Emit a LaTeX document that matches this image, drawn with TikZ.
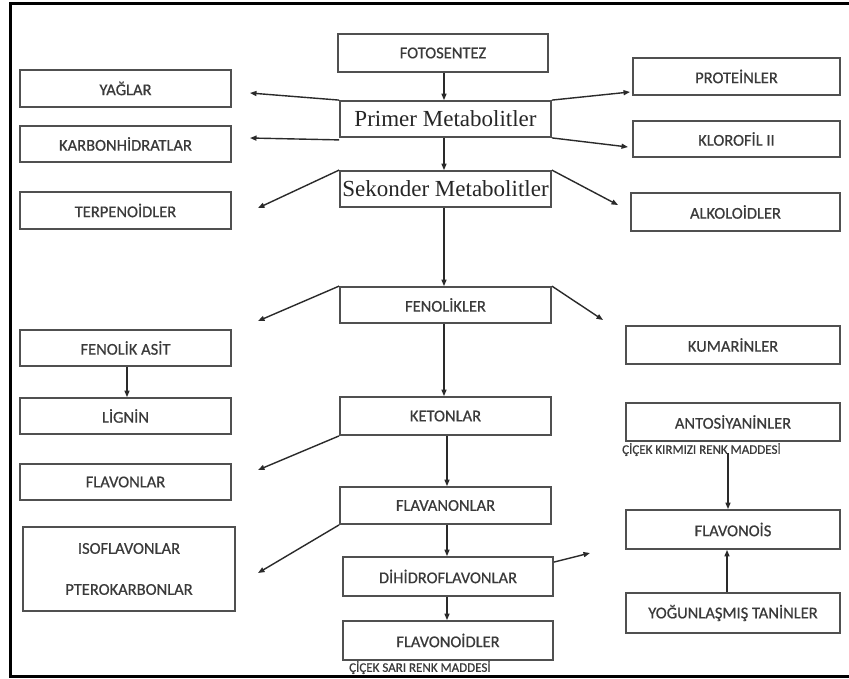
\documentclass[tikz,border=0pt]{standalone}
\usepackage{fontspec}
\setmainfont{Carlito}
\newfontfamily\boxfont{Carlito}[FakeBold=0.6]
\newfontfamily\tmsfont{Liberation Serif}
\usetikzlibrary{arrows.meta}
\definecolor{txtc}{HTML}{3A3A3A}
\definecolor{boxc}{HTML}{505050}
\definecolor{arrc}{HTML}{2A2A2A}
\tikzset{
  box/.style={draw=boxc, line width=1.8pt, fill=white, inner sep=0pt, text=txtc,
    font=\boxfont\fontsize{16.5}{19}\selectfont, align=center},
  serifbox/.style={box, font=\tmsfont\fontsize{23}{26}\selectfont, text=black!85},
  arr/.style={draw=arrc, line width=1.4pt, -{Triangle[length=6.5pt,width=5pt]}},
  note/.style={inner sep=0pt, text=txtc, font=\boxfont\fontsize{13}{15}\selectfont}
}
\begin{document}
\begin{tikzpicture}[x=1pt,y=-1pt]
\useasboundingbox (0,0) rectangle (849,678);
\fill[white] (0,0) rectangle (849,678);
% frame
\draw[black, line width=3pt] (849,3.5) -- (10,3.5) -- (10,676) -- (849,676);

% boxes
\node[box, minimum width=210pt, minimum height=38pt] (foto) at (443,53) {FOTOSENTEZ};
\node[box, minimum width=211pt, minimum height=37pt] (yag) at (125.5,88.5) {YAĞLAR};
\node[box, minimum width=207pt, minimum height=37pt] (prot) at (736.5,76.5) {PROTEİNLER};
\node[serifbox, minimum width=211pt, minimum height=36pt] (prim) at (445.5,119) {Primer Metabolitler};
\node[box, minimum width=211pt, minimum height=36pt] (karb) at (125.5,144) {KARBONHİDRATLAR};
\node[box, minimum width=207pt, minimum height=36pt] (klor) at (736.5,139) {KLOROFİL II};
\node[serifbox, minimum width=211pt, minimum height=36pt] (sek) at (445.5,189) {Sekonder Metabolitler};
\node[box, minimum width=211pt, minimum height=37pt] (terp) at (125.5,210.5) {TERPENOİDLER};
\node[box, minimum width=209pt, minimum height=38pt] (alk) at (735.5,212) {ALKOLOİDLER};
\node[box, minimum width=211pt, minimum height=36pt] (fen) at (445.5,305) {FENOLİKLER};
\node[box, minimum width=211pt, minimum height=36pt] (fasit) at (125.5,348) {FENOLİK ASİT};
\node[box, minimum width=214pt, minimum height=38pt] (kum) at (733,345) {KUMARİNLER};
\node[box, minimum width=211pt, minimum height=36pt] (lig) at (125.5,416) {LİGNİN};
\node[box, minimum width=211pt, minimum height=38pt] (ket) at (445.5,416) {KETONLAR};
\node[box, minimum width=214pt, minimum height=38pt] (anto) at (733,422) {ANTOSİYANİNLER};
\node[note, anchor=north west] (antolbl) at (622,443) {ÇİÇEK KIRMIZI RENK MADDESİ};
\node[box, minimum width=211pt, minimum height=36pt] (flavon) at (125.5,482) {FLAVONLAR};
\node[box, minimum width=211pt, minimum height=37pt] (flavan) at (445.5,505.5) {FLAVANONLAR};
\node[box, minimum width=212pt, minimum height=84pt] (iso) at (129,569) {ISOFLAVONLAR\\[22pt]PTEROKARBONLAR};
\node[box, minimum width=214pt, minimum height=39pt] (flavonois) at (733,529.5) {FLAVONOİS};
\node[box, minimum width=210pt, minimum height=39pt] (dihi) at (448,576.5) {DİHİDROFLAVONLAR};
\node[box, minimum width=214pt, minimum height=40pt] (yog) at (733,613) {YOĞUNLAŞMIŞ TANİNLER};
\node[box, minimum width=210pt, minimum height=39pt] (flavonoid) at (448,640.5) {FLAVONOİDLER};
\node[note, anchor=north west] (sarilbl) at (349,661) {ÇİÇEK SARI RENK MADDESİ};

% free arrow ends
\coordinate (tYag) at (250,93);
\coordinate (tProt) at (630,92);
\coordinate (tKarb) at (250,138);
\coordinate (tKlor) at (628,147);
\coordinate (tTerp) at (258,208);
\coordinate (tAlk) at (618,205);
\coordinate (tFenL) at (258,321);
\coordinate (tFenR) at (603,320);
\coordinate (tFlavon) at (258,470);
\coordinate (tIso) at (258,573);
\coordinate (tDihi) at (590,553);

% connectors
\draw[arr] (foto.south -| 444,0) -- (prim.north -| 444,0);
\draw[arr] (prim.north west) -- (tYag);
\draw[arr] (prim.north east) -- (tProt);
\draw[arr] ([yshift=-2pt]prim.south west) -- (tKarb);
\draw[arr] (prim.south east) -- (tKlor);
\draw[arr] (prim.south -| 444,0) -- (sek.north -| 444,0);
\draw[arr] (sek.north west) -- (tTerp);
\draw[arr] (sek.north east) -- (tAlk);
\draw[arr] (sek.south -| 444,0) -- (fen.north -| 444,0);
\draw[arr] (fen.north west) -- (tFenL);
\draw[arr] (fen.north east) -- (tFenR);
\draw[arr] (fen.south -| 444,0) -- (ket.north -| 444,0);
\draw[arr] (fasit.south -| 127,0) -- (lig.north -| 127,0);
\draw[arr] (ket.south west) -- (tFlavon);
\draw[arr] (ket.south -| 447,0) -- (flavan.north -| 447,0);
\draw[arr] (flavan.south west) -- (tIso);
\draw[arr] (flavan.south -| 447,0) -- (dihi.north -| 447,0);
\draw[arr] (dihi.south -| 447,0) -- (flavonoid.north -| 447,0);
\draw[arr] ([yshift=-6pt]dihi.north east) -- (tDihi);
\draw[arr] ([yshift=3pt]antolbl.south -| 728,0) -- (flavonois.north -| 728,0);
\draw[arr] (yog.north -| 727,0) -- (flavonois.south -| 727,0);
\end{tikzpicture}
\end{document}
